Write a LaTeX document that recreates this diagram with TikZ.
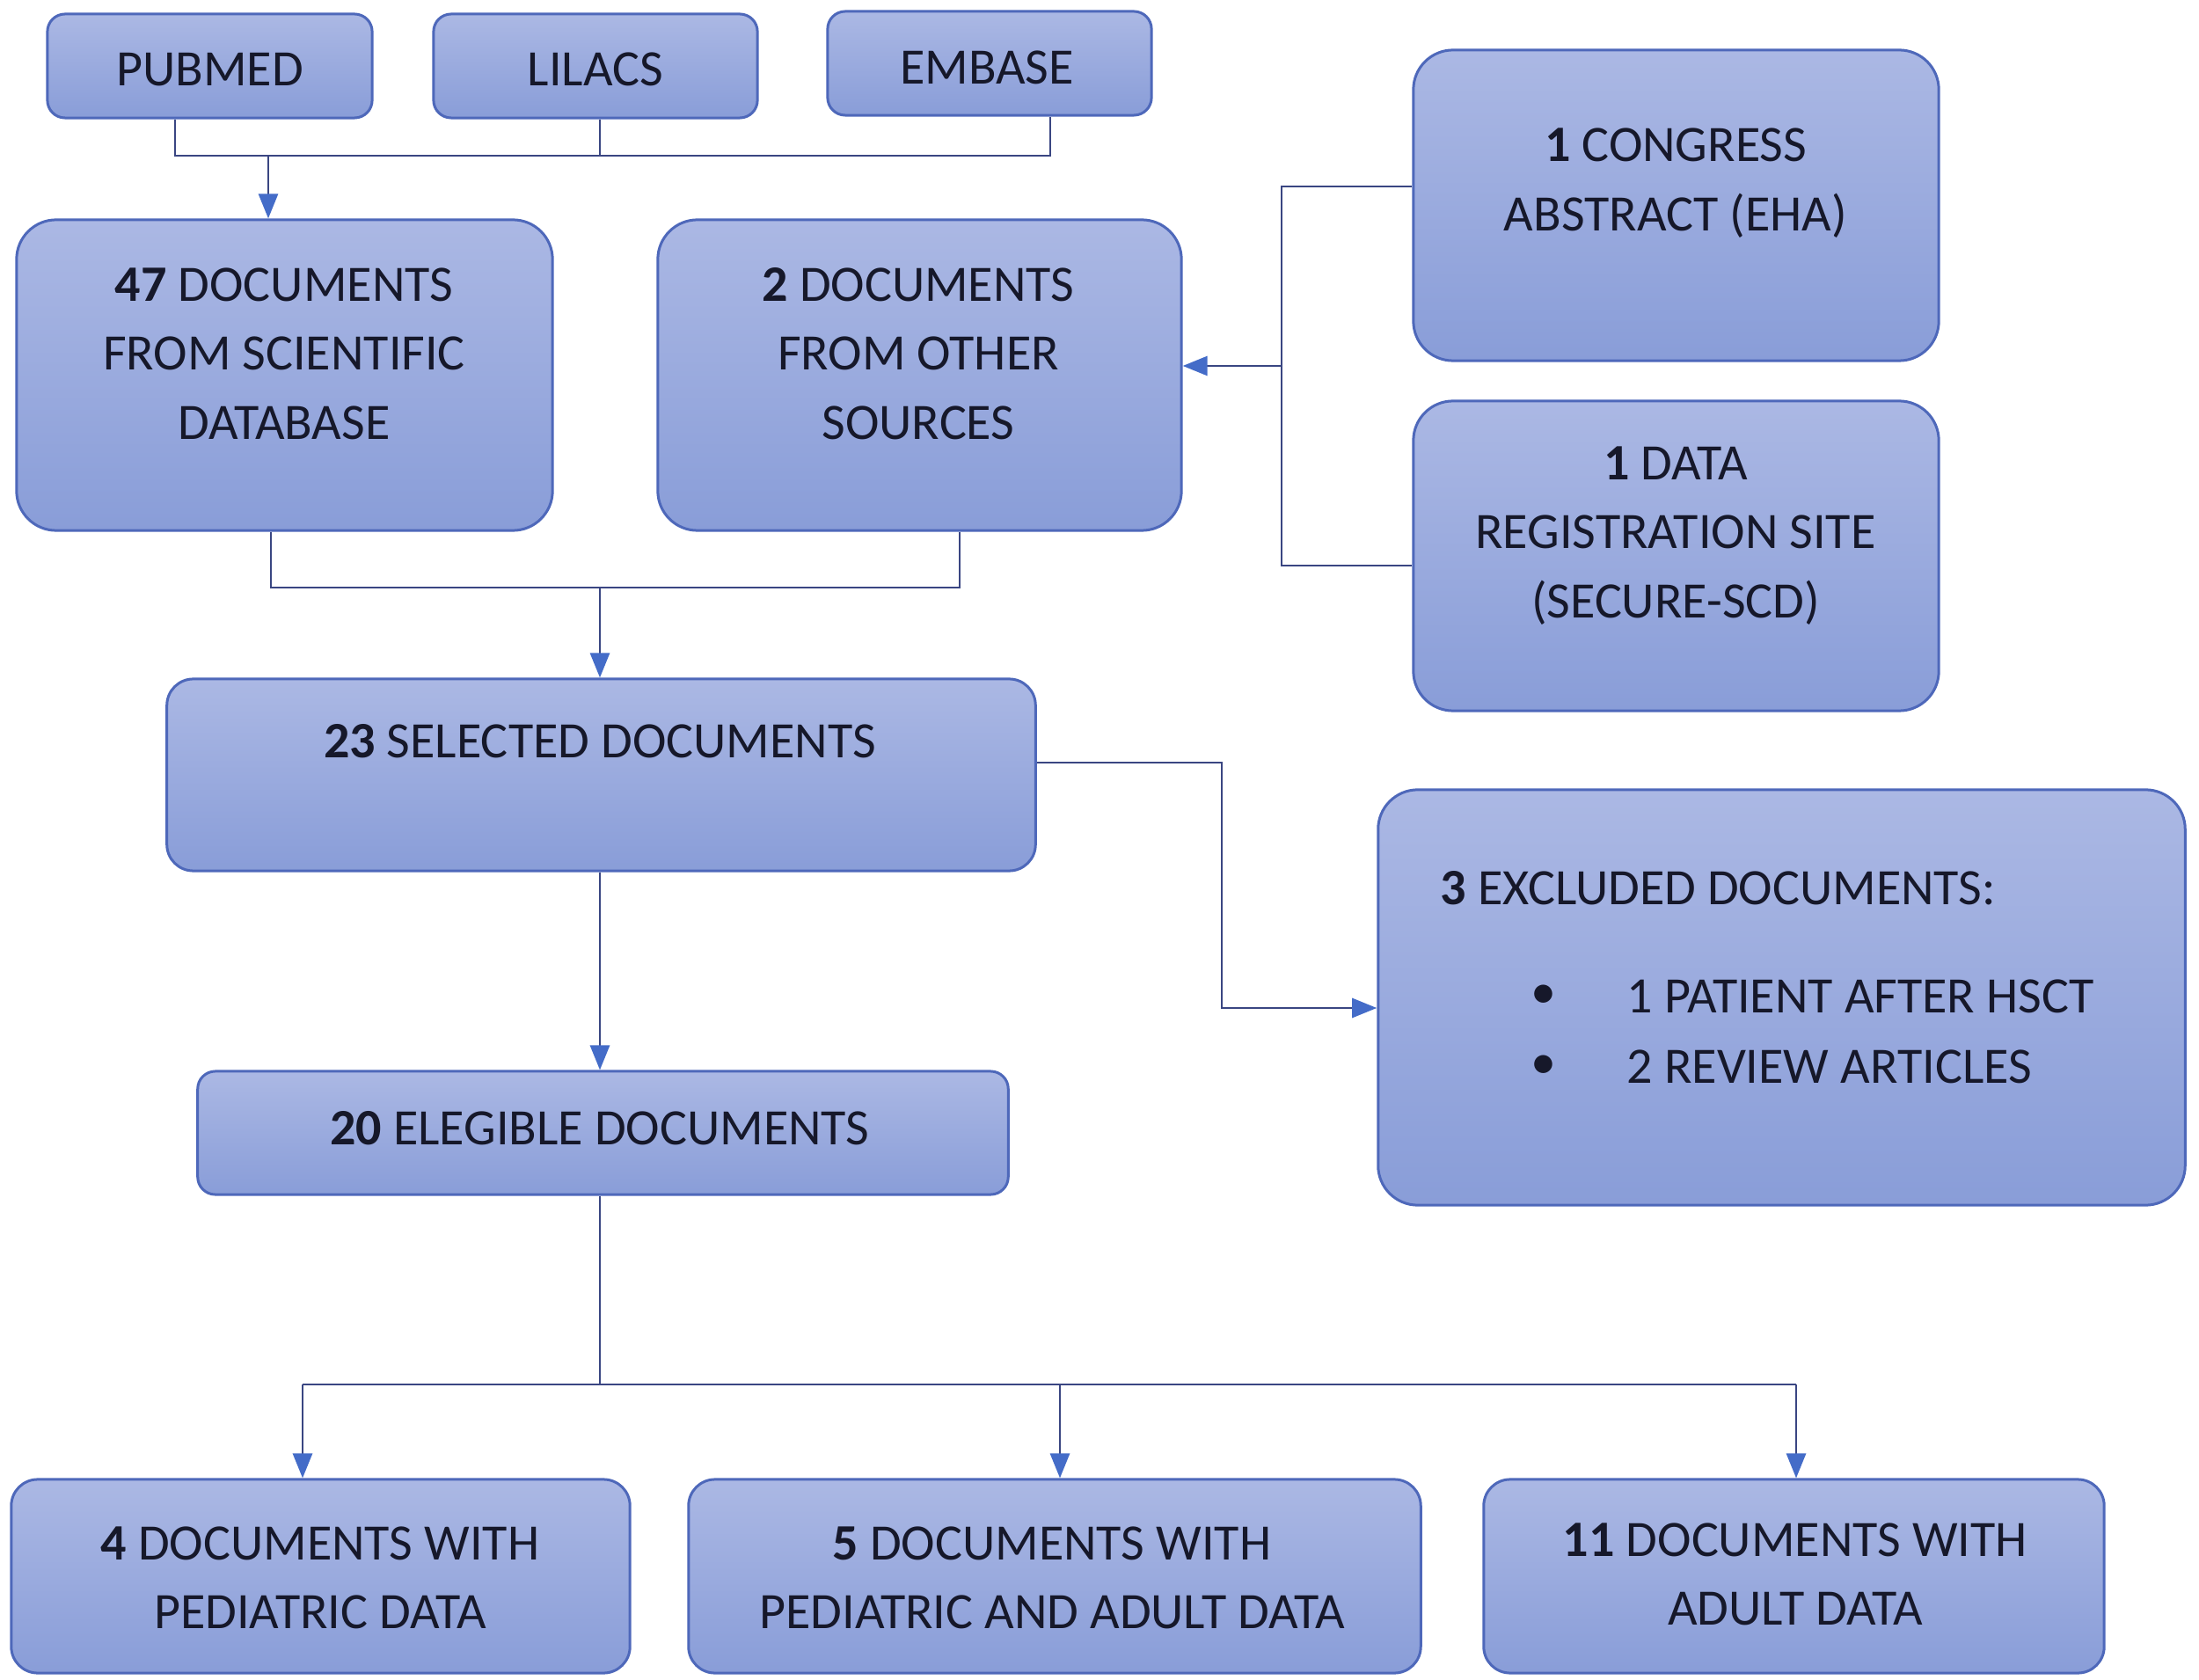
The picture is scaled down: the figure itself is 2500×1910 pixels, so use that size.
\documentclass[tikz,border=0pt]{standalone}
\usepackage{fontspec}
\setmainfont{Carlito}
\usetikzlibrary{arrows.meta}
\definecolor{boxtop}{RGB}{171,184,228}
\definecolor{boxbot}{RGB}{137,157,216}
\definecolor{boxline}{RGB}{78,104,186}
\definecolor{conn}{RGB}{58,70,130}
\definecolor{tipblue}{RGB}{68,108,200}
\definecolor{txtcol}{RGB}{22,24,42}
\tikzset{
  boxbase/.style={draw=boxline, line width=0.03cm, top color=boxtop, bottom color=boxbot, inner sep=0pt},
  smallbox/.style={boxbase, rounded corners=0.2cm},
  bigbox/.style={boxbase, rounded corners=0.45cm},
  midbox/.style={boxbase, rounded corners=0.3cm},
  txt/.style={text=txtcol, font=\fontsize{16.5}{22.3}\selectfont, align=center, inner sep=0pt},
  conline/.style={draw=conn, line width=0.028cm},
  arr/.style={conline, -{Triangle[width=0.22cm,length=0.28cm,color=tipblue]}},
}
\begin{document}
\begin{tikzpicture}[x=0.01cm,y=-0.01cm]
\useasboundingbox[fill=white] (0,0) rectangle (2500,1910);
% top databases
\node[smallbox, minimum width=3.69cm, minimum height=1.18cm] (pub) at (238.5,75) {};
\node[txt] (tpub) at (238.5,79) {PUBMED};
\node[smallbox, minimum width=3.68cm, minimum height=1.18cm] (lil) at (677,75) {};
\node[txt] (tlil) at (677,79) {LILACS};
\node[smallbox, minimum width=3.68cm, minimum height=1.18cm] (emb) at (1125,72) {};
\node[txt] (temb) at (1122,77) {EMBASE};
% second row
\node[bigbox, minimum width=6.09cm, minimum height=3.53cm] (db47) at (323.5,426.5) {};
\node[txt] (t47) at (323,402) {\textbf{47} DOCUMENTS\\FROM SCIENTIFIC\\DATABASE};
\node[bigbox, minimum width=5.95cm, minimum height=3.53cm] (src2) at (1045.5,426.5) {};
\node[txt] (t2) at (1044,402) {\textbf{2} DOCUMENTS\\FROM OTHER\\SOURCES};
\node[bigbox, minimum width=5.97cm, minimum height=3.53cm] (cong) at (1905.5,233.5) {};
\node[txt] (tcong) at (1905,208) {\textbf{1} CONGRESS\\ABSTRACT (EHA)};
\node[bigbox, minimum width=5.97cm, minimum height=3.52cm] (dat) at (1905.5,632) {};
\node[txt] (tdat) at (1905,609) {\textbf{1} DATA\\REGISTRATION SITE\\(SECURE-SCD)};
% selected
\node[midbox, minimum width=9.87cm, minimum height=2.18cm] (sel) at (683.5,881) {};
\node[txt] (tsel) at (682,843) {\textbf{23} SELECTED DOCUMENTS};
% excluded
\node[bigbox, minimum width=9.17cm, minimum height=4.72cm] (exc) at (2025.5,1134) {};
\node[txt, anchor=west] (texc) at (1637,1010) {\textbf{3} EXCLUDED DOCUMENTS:};
\node[txt] (b1) at (1755,1133) {\textbullet};
\node[txt, anchor=west] (e1) at (1849,1133) {1 PATIENT AFTER HSCT};
\node[txt] (b2) at (1755,1213) {\textbullet};
\node[txt, anchor=west] (e2) at (1849,1213) {2 REVIEW ARTICLES};
% eligible
\node[smallbox, minimum width=9.21cm, minimum height=1.40cm] (eleg) at (685.5,1288) {};
\node[txt] (teleg) at (682,1283) {\textbf{20} ELEGIBLE DOCUMENTS};
% bottom row
\node[midbox, minimum width=7.03cm, minimum height=2.20cm] (p4) at (364.5,1792) {};
\node[txt] (tp4) at (364,1794) {\textbf{4} DOCUMENTS WITH\\PEDIATRIC DATA};
\node[midbox, minimum width=8.32cm, minimum height=2.20cm] (p5) at (1199,1792) {};
\node[txt] (tp5) at (1196,1794) {\textbf{5} DOCUMENTS WITH\\PEDIATRIC AND ADULT DATA};
\node[midbox, minimum width=7.05cm, minimum height=2.20cm] (p11) at (2039.5,1792) {};
\node[txt] (tp11) at (2041,1790) {\textbf{11} DOCUMENTS WITH\\ADULT DATA};
% junction coordinates
\coordinate (jtop) at (305,177);
\coordinate (ybus1) at (0,177);
\coordinate (yc1) at (0,212);
\coordinate (yc2) at (0,643);
\coordinate (jsrc) at (1457,416);
\coordinate (ybus2) at (0,668);
\coordinate (x47) at (308,0);
\coordinate (xsrc) at (1091,0);
\coordinate (jmid) at (682,668);
\coordinate (ysel) at (0,867);
\coordinate (jexc) at (1389,1146);
\coordinate (jbot) at (682,1574);
\coordinate (x4) at (344,0);
\coordinate (x5) at (1205,0);
\coordinate (x11) at (2042,0);
\coordinate (xpub) at (199,0);
\coordinate (xlil) at (682,0);
\coordinate (xemb) at (1194,0);
% connectors: databases
\draw[conline] (pub.south -| xpub) |- (ybus1 -| xemb) -- (emb.south -| xemb);
\draw[conline] (lil.south -| xlil) -- (ybus1 -| xlil);
\draw[arr] (jtop) -- (db47.north -| jtop);
% other sources bracket
\draw[conline] (cong.west |- yc1) -| (jsrc) |- (dat.west |- yc2);
\draw[arr] (jsrc) -- (src2.east |- jsrc);
% merge to selected
\draw[conline] (db47.south -| x47) |- (ybus2 -| xsrc) -- (src2.south -| xsrc);
\draw[arr] (jmid) -- (sel.north -| jmid);
% to excluded
\draw[arr] (sel.east |- ysel) -| (jexc) -- (exc.west |- jexc);
% selected to eligible
\draw[arr] (sel.south -| jmid) -- (eleg.north -| jmid);
% eligible to groups
\draw[conline] (eleg.south -| jbot) -- (jbot);
\draw[conline] (jbot -| x4) -- (jbot -| x11);
\draw[arr] (jbot -| x4) -- (p4.north -| x4);
\draw[arr] (jbot -| x5) -- (p5.north -| x5);
\draw[arr] (jbot -| x11) -- (p11.north -| x11);
\end{tikzpicture}
\end{document}
